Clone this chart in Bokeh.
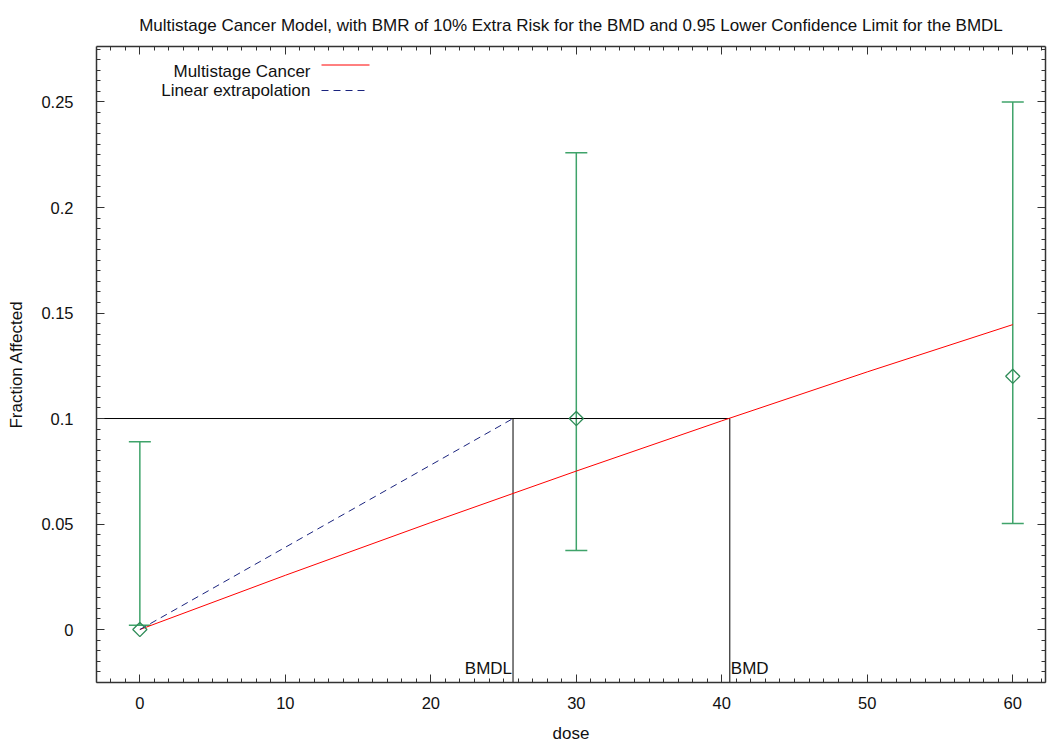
import numpy as np
from bokeh.plotting import figure
from bokeh.models import (LinearAxis, Range1d, Whisker, TeeHead, ColumnDataSource,
                          Label, FixedTicker)
from bokeh.embed import file_html
from bokeh.resources import INLINE

# ---------------- data ----------------
dose = [0, 30, 60]
frac_affected = [0.0, 0.100, 0.120]
ci_lower = [0.002, 0.0374, 0.0502]
ci_upper = [0.089, 0.226, 0.250]

model_dose = [0, 10, 20, 30, 40, 50, 60]
model_frac = [0.0, 0.0257, 0.0507, 0.0751, 0.0989, 0.1221, 0.1445]

bmr = 0.1
bmd = 40.55
bmdl = 25.65

x_ticks = [0, 10, 20, 30, 40, 50, 60]
y_ticks = [0, 0.05, 0.1, 0.15, 0.2, 0.25]
y_tick_labels = ["0", "0.05", "0.1", "0.15", "0.2", "0.25"]

title_text = ("Multistage Cancer Model, with BMR of 10% Extra Risk for the BMD "
              "and 0.95 Lower Confidence Limit for the BMDL")
legend_labels = ["Multistage Cancer", "Linear extrapolation"]

# ---------------- styling ----------------
FONT = "Liberation Sans"
TXT = "#111111"
GREEN = "#2e8b57"
BAR_GREEN = "#3fa36a"
AXIS_COL = "#333333"
W, H = 1047, 747
BL, BR, BT, BB = 96, 2, 46, 65
xr = Range1d(-2.98, 62.25)
yr = Range1d(-0.0251, 0.2763)
FW = W - BL - BR
FH = H - BT - BB

p = figure(width=W, height=H, x_range=xr, y_range=yr, output_backend="svg",
           toolbar_location=None, min_border_left=BL, min_border_right=BR,
           min_border_top=BT, min_border_bottom=BB, x_axis_label="dose",
           y_axis_label="Fraction Affected")
p.outline_line_color = None
p.xgrid.visible = False
p.ygrid.visible = False
p.background_fill_color = "white"
p.border_fill_color = "white"

p.title.text = title_text
p.title.text_font = FONT
p.title.text_font_size = "17px"
p.title.text_font_style = "normal"
p.title.align = "center"
p.title.text_color = TXT
p.title.standoff = 23
p.title.offset = 5

x_minor = list(np.arange(-2, 63, 1))
y_minor = list(np.round(np.arange(-0.025, 0.28, 0.005), 4))


def style_axis(ax, show_labels=True):
    ax.axis_line_color = AXIS_COL
    ax.axis_line_width = 1.5
    ax.major_tick_line_color = AXIS_COL
    ax.minor_tick_line_color = AXIS_COL
    ax.major_tick_in = 8
    ax.major_tick_out = 0
    ax.minor_tick_in = 4
    ax.minor_tick_out = 0
    ax.major_label_text_font = FONT
    ax.major_label_text_font_size = "16.5px" if show_labels else "1px"
    ax.major_label_text_color = TXT if show_labels else None
    ax.axis_label_text_font = FONT
    ax.axis_label_text_font_size = "17px"
    ax.axis_label_text_font_style = "normal"
    ax.axis_label_text_color = TXT


xa = p.xaxis[0]
xa.ticker = FixedTicker(ticks=x_ticks, minor_ticks=x_minor)
style_axis(xa)
xa.major_label_standoff = 14
xa.axis_label_standoff = 12

ya = p.yaxis[0]
ya.ticker = FixedTicker(ticks=y_ticks, minor_ticks=y_minor)
style_axis(ya)
ya.major_label_overrides = {t: l for t, l in zip(y_ticks, y_tick_labels)}
ya.major_label_standoff = 23
ya.axis_label_standoff = 12

top = LinearAxis(ticker=FixedTicker(ticks=x_ticks, minor_ticks=x_minor))
style_axis(top, False)
top.major_label_standoff = 0
p.add_layout(top, "above")
right = LinearAxis(ticker=FixedTicker(ticks=y_ticks, minor_ticks=y_minor))
style_axis(right, False)
right.major_label_standoff = 0
p.add_layout(right, "right")

# ---------------- BMD / BMDL reference lines ----------------
p.segment(x0=[xr.start], y0=[bmr], x1=[bmd], y1=[bmr], line_color="black", line_width=1)
p.segment(x0=[bmdl, bmd], y0=[bmr, bmr], x1=[bmdl, bmd], y1=[yr.start, yr.start],
          line_color="black", line_width=1)

# ---------------- model lines ----------------
p.line(model_dose, model_frac, line_color="red", line_width=1)
p.line([0, bmdl], [0, bmr], line_color="#1a237e", line_width=1, line_dash="7 5")

# ---------------- data with CI ----------------
src = ColumnDataSource(dict(dose=dose, frac=frac_affected, lo=ci_lower, hi=ci_upper))
wk = Whisker(base="dose", lower="lo", upper="hi", source=src,
             line_color=BAR_GREEN, line_width=1.5,
             upper_head=TeeHead(size=22, line_color=BAR_GREEN, line_width=1.5),
             lower_head=TeeHead(size=22, line_color=BAR_GREEN, line_width=1.5))
p.add_layout(wk)
p.scatter("dose", "frac", source=src, marker="square", angle=np.pi / 4, size=10,
          fill_color=None, line_color=GREEN, line_width=1.3)

# ---------------- BMD labels ----------------
p.add_layout(Label(x=bmdl, y=-0.0218, text="BMDL", text_align="right",
                   text_baseline="alphabetic", x_offset=-1, y_offset=7, text_font=FONT,
                   text_font_size="17px", text_color=TXT))
p.add_layout(Label(x=bmd, y=-0.0218, text="BMD", text_align="left",
                   text_baseline="alphabetic", x_offset=1, y_offset=7, text_font=FONT,
                   text_font_size="17px", text_color=TXT))

# ---------------- legend (label then sample line) ----------------
def sx_to_x(sx):
    return xr.start + sx / FW * (xr.end - xr.start)


def sy_to_y(sy):  # sy measured from frame top
    return yr.end - sy / FH * (yr.end - yr.start)


leg_text_right = 214
leg_rows = [25, 44]
leg_line_rows = [18.5, 44]
leg_colors = ["red", "#1a237e"]
leg_dashes = ["solid", "7 5"]
for lab, ty, ly, c, d in zip(legend_labels, leg_rows, leg_line_rows, leg_colors, leg_dashes):
    p.add_layout(Label(x=leg_text_right, y=FH - ty, x_units="screen", y_units="screen",
                       text=lab, text_align="right", text_baseline="middle",
                       text_font=FONT, text_font_size="17px", text_color=TXT))
    yy = sy_to_y(ly)
    p.line([sx_to_x(225), sx_to_x(273)], [yy, yy], line_color=c, line_width=1, line_dash=d)

open("out.html", "w").write(file_html(p, INLINE))
